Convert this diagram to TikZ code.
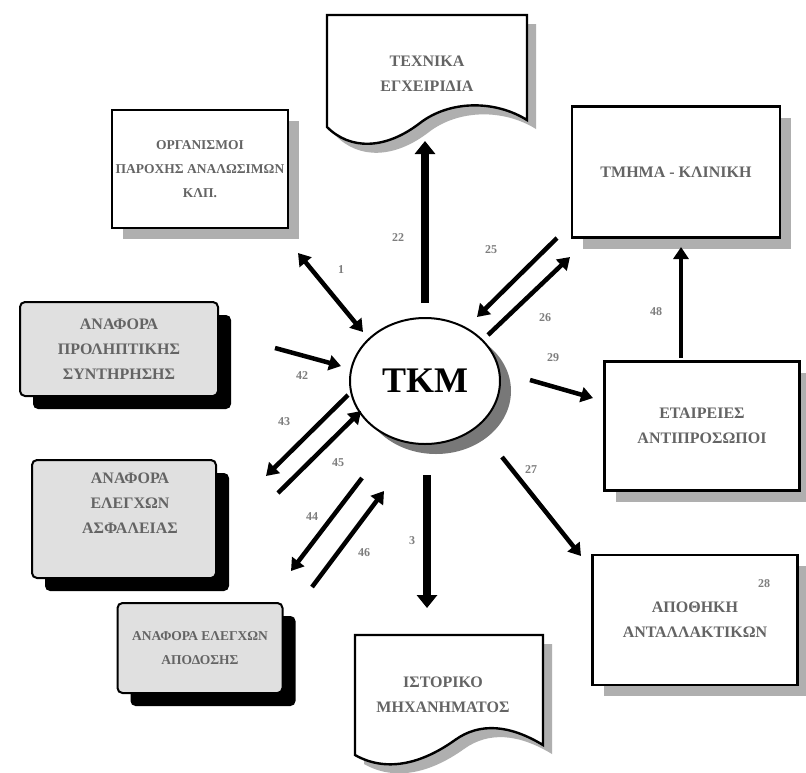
\documentclass[tikz,border=0pt]{standalone}
\usepackage{fontspec}
\setmainfont{Liberation Serif}
\usetikzlibrary{arrows.meta,shadows,shapes.geometric}
\definecolor{txt}{RGB}{100,100,100}
\definecolor{lbl}{RGB}{125,125,125}
\definecolor{shd}{RGB}{175,175,175}
\definecolor{shdark}{RGB}{120,120,120}
\definecolor{boxfill}{RGB}{224,224,224}
\newcommand\boxfont{\fontsize{16}{25}\selectfont\bfseries}
\newcommand\smallboxfont{\fontsize{13.5}{24}\selectfont\bfseries}
\begin{document}
\begin{tikzpicture}[x=1pt,y=-1pt,
  whitebox/.style={draw, line width=2.6pt, fill=white, inner sep=0pt, align=center,
    font=\boxfont, text=txt,
    drop shadow={shadow xshift=11pt, shadow yshift=-11pt, fill=shd, opacity=1}},
  graybox/.style={draw, line width=2pt, fill=boxfill, rounded corners=5pt, inner sep=0pt,
    align=center, font=\boxfont, text=txt,
    drop shadow={shadow xshift=13pt, shadow yshift=-13pt, fill=black, opacity=1}},
  doctext/.style={align=center, font=\boxfont, text=txt, inner sep=0pt},
  docline/.style={draw=black, line width=2.4pt, fill=white, line join=miter},
  flow/.style={line width=4.5pt, -{Triangle[length=12pt,width=15pt]}},
  flowboth/.style={line width=4.5pt, {Triangle[length=12pt,width=15pt]}-{Triangle[length=12pt,width=15pt]}},
  bigflow/.style={line width=8pt, -{Triangle[length=13pt,width=20pt]}},
  lab/.style={text=lbl, font=\fontsize{12}{12}\selectfont\bfseries, inner sep=0pt}]
\useasboundingbox (0,0) rectangle (806,772);
\fill[white] (0,0) rectangle (806,772);

% ---------- document shapes ----------
\fill[shd, shift={(9,9)}] (327,15) -- (527,15) -- (527,120)
  .. controls (495,100) and (450,100) .. (420,123)
  .. controls (385,150) and (350,150) .. (327,127) -- cycle;
\draw[docline] (327,15) -- (527,15) -- (527,120)
  .. controls (495,100) and (450,100) .. (420,123)
  .. controls (385,150) and (350,150) .. (327,127) -- cycle;
\node[doctext] (manuals) at (427,74) {ΤΕΧΝΙΚΑ\\ΕΓΧΕΙΡΙΔΙΑ};

\fill[shd, shift={(9,9)}] (355,635) -- (543,635) -- (543,745)
  .. controls (510,725) and (480,722) .. (455,740)
  .. controls (420,765) and (385,772) .. (355,755) -- cycle;
\draw[docline] (355,635) -- (543,635) -- (543,745)
  .. controls (510,725) and (480,722) .. (455,740)
  .. controls (420,765) and (385,772) .. (355,755) -- cycle;
\node[doctext] (history) at (443,695) {ΙΣΤΟΡΙΚΟ\\ΜΗΧΑΝΗΜΑΤΟΣ};

% ---------- boxes ----------
\node[whitebox, minimum width=176pt, minimum height=118pt, font=\smallboxfont] (org) at (200,169)
  {ΟΡΓΑΝΙΣΜΟΙ\\ΠΑΡΟΧΗΣ ΑΝΑΛΩΣΙΜΩΝ\\ΚΛΠ.};
\node[whitebox, minimum width=208pt, minimum height=131pt] (clinic) at (676,172)
  {ΤΜΗΜΑ - ΚΛΙΝΙΚΗ};
\node[whitebox, minimum width=195pt, minimum height=129pt] (firms) at (702,426)
  {ΕΤΑΙΡΕΙΕΣ\\ΑΝΤΙΠΡΟΣΩΠΟΙ};
\node[whitebox, minimum width=205pt, minimum height=130pt] (store) at (695,620)
  {ΑΠΟΘΗΚΗ\\ΑΝΤΑΛΛΑΚΤΙΚΩΝ};

\node[graybox, minimum width=198pt, minimum height=94pt] (prev) at (119,349)
  {ΑΝΑΦΟΡΑ\\ΠΡΟΛΗΠΤΙΚΗΣ\\ΣΥΝΤΗΡΗΣΗΣ};
\node[graybox, minimum width=184pt, minimum height=118pt] (safety) at (124,519) {};
\node[doctext] (safetytext) at (130,503) {ΑΝΑΦΟΡΑ\\ΕΛΕΓΧΩΝ\\ΑΣΦΑΛΕΙΑΣ};
\node[graybox, minimum width=165pt, minimum height=90pt, font=\smallboxfont] (perf) at (200,648)
  {ΑΝΑΦΟΡΑ ΕΛΕΓΧΩΝ\\ΑΠΟΔΟΣΗΣ};

% ---------- centre ----------
\node[ellipse, draw, line width=2pt, fill=white, minimum width=150pt, minimum height=126pt,
  inner sep=0pt,
  drop shadow={shadow xshift=11pt, shadow yshift=-10pt, fill=shdark, opacity=1}] (tkm) at (425,381)
  {\fontsize{36}{36}\selectfont\bfseries ΤΚΜ};

% ---------- arrow end points ----------
\coordinate (o1) at (298,253);  \coordinate (t1) at (363,332);
\coordinate (t22a) at (425,303); \coordinate (t22b) at (425,141);
\coordinate (c25a) at (557,238); \coordinate (c25b) at (477,317);
\coordinate (c26a) at (488,335); \coordinate (c26b) at (570,257);
\coordinate (f29a) at (530,380); \coordinate (f29b) at (593,398);
\coordinate (f48a) at (681,358); \coordinate (f48b) at (681,247);
\coordinate (p42a) at (275,348); \coordinate (p42b) at (341,366);
\coordinate (s43a) at (348,395); \coordinate (s43b) at (266,476);
\coordinate (s45a) at (278,493); \coordinate (s45b) at (361,411);
\coordinate (r44a) at (362,478); \coordinate (r44b) at (291,571);
\coordinate (r46a) at (312,587); \coordinate (r46b) at (384,491);
\coordinate (h3a) at (427,475);  \coordinate (h3b) at (427,608);
\coordinate (a27a) at (502,457); \coordinate (a27b) at (581,556);

% ---------- arrows ----------
\draw[flowboth] (o1) -- (t1);
\draw[bigflow] (t22a) -- (t22b);
\draw[flow] (c25a) -- (c25b);
\draw[flow] (c26a) -- (c26b);
\draw[flow] (f29a) -- (f29b);
\draw[flow] (f48a) -- (f48b);
\draw[flow] (p42a) -- (p42b);
\draw[flow] (s43a) -- (s43b);
\draw[flow] (s45a) -- (s45b);
\draw[flow] (r44a) -- (r44b);
\draw[flow] (r46a) -- (r46b);
\draw[bigflow] (h3a) -- (h3b);
\draw[flow] (a27a) -- (a27b);

% ---------- labels ----------
\node[lab] (l22) at (398,238) {22};
\node[lab] (l1)  at (341,270) {1};
\node[lab] (l25) at (491,250) {25};
\node[lab] (l26) at (545,318) {26};
\node[lab] (l29) at (553,358) {29};
\node[lab] (l48) at (656,312) {48};
\node[lab] (l42) at (302,376) {42};
\node[lab] (l43) at (284,422) {43};
\node[lab] (l45) at (338,463) {45};
\node[lab] (l44) at (312,517) {44};
\node[lab] (l46) at (364,553) {46};
\node[lab] (l3)  at (412,541) {3};
\node[lab] (l27) at (531,470) {27};
\node[lab] (l28) at (764,584) {28};
\end{tikzpicture}
\end{document}
